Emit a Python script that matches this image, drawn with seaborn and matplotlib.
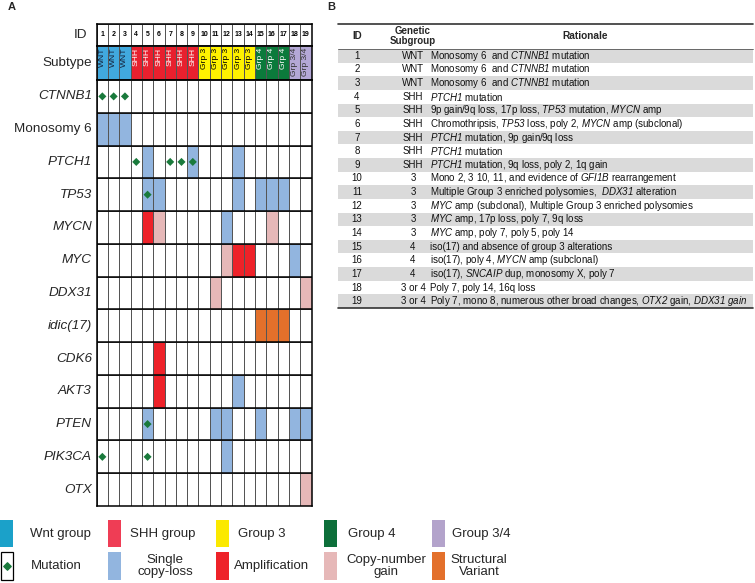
import numpy as np
import pandas as pd
import matplotlib
matplotlib.use("Agg")
import matplotlib.pyplot as plt
from matplotlib.colors import ListedColormap
from matplotlib.patches import Rectangle
import seaborn as sns

# ---- data ----
ids = [1, 2, 3, 4, 5, 6, 7, 8, 9, 10, 11, 12, 13, 14, 15, 16, 17, 18, 19]
subtypes = ["WNT", "WNT", "WNT", "SHH", "SHH", "SHH", "SHH", "SHH", "SHH",
            "Grp 3", "Grp 3", "Grp 3", "Grp 3", "Grp 3",
            "Grp 4", "Grp 4", "Grp 4", "Grp 3/4", "Grp 3/4"]
genes = ["CTNNB1", "Monosomy 6", "PTCH1", "TP53", "MYCN", "MYC", "DDX31",
         "idic(17)", "CDK6", "AKT3", "PTEN", "PIK3CA", "OTX"]

mutation = {"CTNNB1": [1, 2, 3], "PTCH1": [4, 7, 8, 9], "TP53": [5],
            "PTEN": [5], "PIK3CA": [1, 5]}
single_loss = {"Monosomy 6": [1, 2, 3], "PTCH1": [5, 9, 13],
               "TP53": [5, 6, 13, 15, 16, 17], "MYCN": [12], "MYC": [18],
               "AKT3": [13], "PTEN": [5, 11, 12, 15, 18, 19], "PIK3CA": [12]}
amplification = {"MYCN": [5], "MYC": [13, 14], "CDK6": [6], "AKT3": [6]}
cn_gain = {"MYCN": [6, 16], "MYC": [12], "DDX31": [11, 19], "OTX": [19]}
structural = {"idic(17)": [15, 16, 17]}

table_subgroup = ["WNT", "WNT", "WNT", "SHH", "SHH", "SHH", "SHH", "SHH", "SHH",
                  "3", "3", "3", "3", "3", "4", "4", "4", "3 or 4", "3 or 4"]
table_rationale = [
    r"Monosomy 6  and $\mathit{CTNNB1}$ mutation",
    r"Monosomy 6  and $\mathit{CTNNB1}$ mutation",
    r"Monosomy 6  and $\mathit{CTNNB1}$ mutation",
    r"$\mathit{PTCH1}$ mutation",
    r"9p gain/9q loss, 17p loss, $\mathit{TP53}$ mutation, $\mathit{MYCN}$ amp",
    r"Chromothripsis, $\mathit{TP53}$ loss, poly 2, $\mathit{MYCN}$ amp (subclonal)",
    r"$\mathit{PTCH1}$ mutation, 9p gain/9q loss",
    r"$\mathit{PTCH1}$ mutation",
    r"$\mathit{PTCH1}$ mutation, 9q loss, poly 2, 1q gain",
    r"Mono 2, 3 10, 11, and evidence of $\mathit{GFI1B}$ rearrangement",
    r"Multiple Group 3 enriched polysomies,  $\mathit{DDX31}$ alteration",
    r"$\mathit{MYC}$ amp (subclonal), Multiple Group 3 enriched polysomies",
    r"$\mathit{MYC}$ amp, 17p loss, poly 7, 9q loss",
    r"$\mathit{MYC}$ amp, poly 7, poly 5, poly 14",
    r"iso(17) and absence of group 3 alterations",
    r"iso(17), poly 4, $\mathit{MYCN}$ amp (subclonal)",
    r"iso(17), $\mathit{SNCAIP}$ dup, monosomy X, poly 7",
    r"Poly 7, poly 14, 16q loss",
    r"Poly 7, mono 8, numerous other broad changes, $\mathit{OTX2}$ gain, $\mathit{DDX31}$ $\mathit{gain}$",
]

# colours
subtype_order = ["WNT", "SHH", "Grp 3", "Grp 4", "Grp 3/4"]
subtype_colors = ["#41a9de", "#e8202e", "#fff200", "#0b7a3b", "#b4a8d6"]
subtype_text = ["#14213a", "white", "black", "white", "#333333"]
loss_c, amp_c, gain_c, sv_c = "#92b5df", "#ee2229", "#e6b8b8", "#e3702b"
mut_c = "#1a7a3c"

sns.set_theme(style="white")
plt.rcParams["font.family"] = ["Liberation Sans", "DejaVu Sans"]
plt.rcParams["mathtext.fontset"] = "custom"
# digits inside \mathit fall back to the "rm" font, so make it italic too;
# plain (non-math) text still uses the text's own upright font
plt.rcParams["mathtext.rm"] = "Liberation Sans:italic"
plt.rcParams["mathtext.it"] = "Liberation Sans:italic"
plt.rcParams["mathtext.bf"] = "Liberation Sans:bold"

W, H = 755, 583
fig = plt.figure(figsize=(W / 100, H / 100), dpi=100)


def fbox(x0, y0, x1, y1):
    return [x0 / W, 1 - y1 / H, (x1 - x0) / W, (y1 - y0) / H]


# background axes in pixel coordinates for table / legend / letters
bg = fig.add_axes([0, 0, 1, 1])
bg.set_xlim(0, W)
bg.set_ylim(H, 0)
bg.axis("off")

gx0, gx1 = 96.7, 311.5
ax_id = fig.add_axes(fbox(gx0, 24, gx1, 45.7))
ax_sub = fig.add_axes(fbox(gx0, 45.7, gx1, 80))
ax = fig.add_axes(fbox(gx0, 80, gx1, 506))

# ID row
sns.heatmap(pd.DataFrame([np.zeros(len(ids))], index=["ID"], columns=ids), ax=ax_id,
            cmap=ListedColormap(["white"]), cbar=False, annot=np.array([ids]), fmt="d",
            annot_kws=dict(size=5, weight="bold", color="black"),
            linewidths=0.7, linecolor="#555555", xticklabels=False, yticklabels=True)

# subtype row
codes = [subtype_order.index(s) for s in subtypes]
sns.heatmap(pd.DataFrame([codes], index=["Subtype"], columns=ids), ax=ax_sub,
            cmap=ListedColormap(subtype_colors), vmin=-0.5, vmax=4.5, cbar=False,
            linewidths=0.7, linecolor="#555555", xticklabels=False, yticklabels=True)
for i, s in enumerate(subtypes):
    k = subtype_order.index(s)
    ax_sub.text(i + 0.5, 0.06, s, rotation=90, ha="center", va="top",
                fontsize=6.1, color=subtype_text[k])

# alteration matrix
mat = np.zeros((len(genes), len(ids)))
for code, d in enumerate([single_loss, amplification, cn_gain, structural], start=1):
    for g, cols in d.items():
        for c in cols:
            mat[genes.index(g), c - 1] = code
sns.heatmap(pd.DataFrame(mat, index=genes, columns=ids), ax=ax,
            cmap=ListedColormap(["white", loss_c, amp_c, gain_c, sv_c]),
            vmin=-0.5, vmax=4.5, cbar=False, linewidths=0.7, linecolor="#555555",
            xticklabels=False, yticklabels=True)
ax.hlines(np.arange(1, len(genes)), 0, len(ids), color="black", lw=1.1, zorder=2)

mut_df = pd.DataFrame([(c - 0.5, genes.index(g) + 0.5)
                       for g, cols in mutation.items() for c in cols], columns=["x", "y"])
sns.scatterplot(data=mut_df, x="x", y="y", marker="D", s=17, color=mut_c,
                edgecolor="none", ax=ax, zorder=3)
ax.set_xlabel("")
ax.set_ylabel("")

for a in (ax_id, ax_sub, ax):
    for sp in a.spines.values():
        sp.set_visible(True)
        sp.set_color("black")
        sp.set_linewidth(1.1)
    a.tick_params(axis="y", length=0, pad=3.5)
    for lab in a.get_yticklabels():
        lab.set_rotation(0)
        lab.set_fontsize(9.7)
        txt = lab.get_text()
        if txt not in ("ID", "Subtype", "Monosomy 6"):
            lab.set_fontstyle("italic")
ax_id.tick_params(axis="y", pad=7)

# panel letters
bg.text(8, 7, "A", fontsize=8, weight="bold", va="center", ha="left")
bg.text(327, 7, "B", fontsize=8, weight="bold", va="center", ha="left")

# legend
row1 = [("Wnt group", "#1ba1c9"), ("SHH group", "#ef3d55"), ("Group 3", "#fbe900"),
        ("Group 4", "#0d6f3a"), ("Group 3/4", "#b3a3cb")]
row2 = [("Mutation", None), ("Single\ncopy-loss", loss_c), ("Amplification", amp_c),
        ("Copy-number\ngain", gain_c), ("Structural\nVariant", sv_c)]
row1_cx = [60, 163, 262, 372, 481]
row2_cx = [56, 165, 272, 386, 479]
for k, ((l1, c1), (l2, c2)) in enumerate(zip(row1, row2)):
    x0 = k * 108
    bg.add_patch(Rectangle((x0, 520), 12.7, 27, facecolor=c1, edgecolor="none"))
    bg.text(row1_cx[k], 533.5, l1, fontsize=9.5, ha="center", va="center")
    if c2 is None:
        bg.add_patch(Rectangle((x0 + 0.5, 552), 12, 27.5, facecolor="white",
                               edgecolor="black", lw=0.9))
        bg.scatter([x0 + 6.5], [566], marker="D", s=14, color=mut_c, zorder=3)
    else:
        bg.add_patch(Rectangle((x0, 552), 12.7, 27.5, facecolor=c2, edgecolor="none"))
    bg.text(row2_cx[k], 566, l2, fontsize=9.5, ha="center", va="center",
            linespacing=1.05)

# table (panel B)
tx0, tx1 = 338, 753
ty0, rh = 49, 13.63
bg.plot([tx0, tx1], [24, 24], color="#333333", lw=1.2)
bg.text(357, 36, "ID", fontsize=7, weight="bold", ha="center", va="center")
bg.text(413, 36, "Genetic\nSubgroup", fontsize=7, weight="bold", ha="center",
        va="center", linespacing=1.05)
bg.text(585, 36, "Rationale", fontsize=7.3, weight="bold", ha="center", va="center")
bg.plot([tx0, tx1], [ty0, ty0], color="#555555", lw=0.6)
for i, (tid, sg, rat) in enumerate(zip(ids, table_subgroup, table_rationale)):
    yt = ty0 + i * rh
    if i % 2 == 0:
        bg.add_patch(Rectangle((tx0, yt), tx1 - tx0, rh, facecolor="#dadada",
                               edgecolor="none"))
    yc = yt + rh / 2
    bg.text(357, yc, str(tid), fontsize=7, ha="center", va="center", color="#111111")
    bg.text(413, yc, sg, fontsize=7, ha="center", va="center", color="#111111")
    bg.text(430, yc, rat, fontsize=7, ha="left", va="center", color="#111111")
bg.plot([tx0, tx1], [ty0 + len(ids) * rh, ty0 + len(ids) * rh], color="#333333", lw=1.2)

fig.savefig("out.png", dpi=100)
